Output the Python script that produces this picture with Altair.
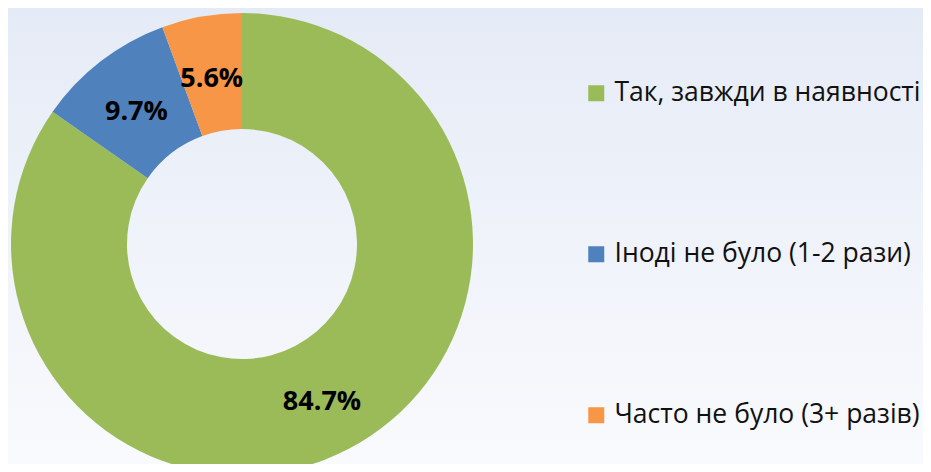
import altair as alt
import pandas as pd

categories = ["Так, завжди в наявності", "Іноді не було (1-2 рази)", "Часто не було (3+ разів)"]
values = [84.7, 9.7, 5.6]
labels = ["84.7%", "9.7%", "5.6%"]
orders = [1, 2, 3]
colors = ["#9bbb59", "#4f81bd", "#f79646"]

W, H = 915, 456
CX, CY = 234, 236

df = pd.DataFrame({"category": categories, "value": values, "label": labels, "ord": orders})
bg_df = pd.DataFrame({"a": [0]})

bg = alt.Chart(bg_df).mark_rect(
    color=alt.LinearGradient(
        gradient="linear",
        stops=[alt.GradientStop(color="#e5ebf6", offset=0),
               alt.GradientStop(color="#f9fafd", offset=1)],
        x1=0, x2=0, y1=0, y2=1,
    )
).encode(x=alt.value(0), x2=alt.value(W), y=alt.value(0), y2=alt.value(H))

base = alt.Chart(df)

arc = base.mark_arc(outerRadius=231, innerRadius=115, x=CX, y=CY).encode(
    theta=alt.Theta("value:Q", stack=True),
    color=alt.Color(
        "category:N",
        scale=alt.Scale(domain=categories, range=colors),
        legend=alt.Legend(
            orient="none", legendX=575, legendY=72, title=None,
            symbolType="square", symbolSize=256, symbolStrokeWidth=0,
            labelFont="Open Sans", labelFontSize=26.5, labelColor="#111111",
            rowPadding=134, labelOffset=5, direction="vertical",
            padding=0, labelLimit=500,
        ),
    ),
    order=alt.Order("ord:Q"),
)

text = base.mark_text(
    radius=173, x=CX, y=CY, dy=5, fontSize=27, fontWeight="bold",
    font="Open Sans", color="#000000", align="center", baseline="middle",
).encode(
    theta=alt.Theta("value:Q", stack=True),
    text="label:N",
    order=alt.Order("ord:Q"),
)

chart = alt.layer(bg, arc, text).properties(
    width=W, height=H, autosize=alt.AutoSizeParams(type="none"), padding=0,
    background="#eef2f9",
).configure_view(stroke=None)

chart.save("out.html", embed_options={"renderer": "svg", "actions": False})
